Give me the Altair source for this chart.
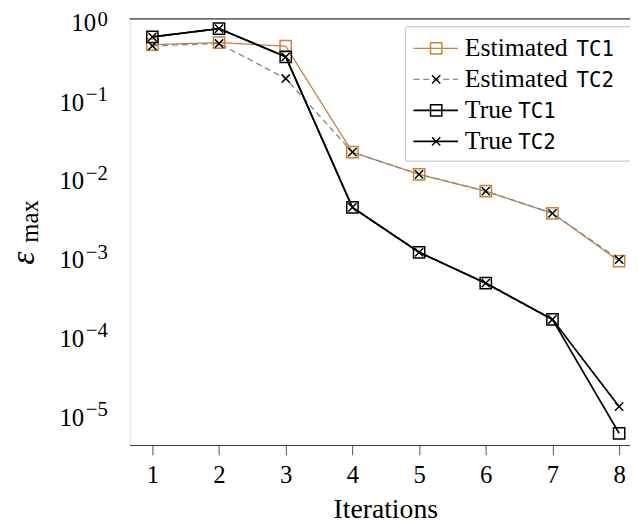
import altair as alt
import pandas as pd

# ---- data ----
iterations = [1, 2, 3, 4, 5, 6, 7, 8]
est_tc1 = [0.47, 0.50, 0.45, 0.0204, 0.0107, 0.00655, 0.00343, 0.00085]
est_tc2 = [0.455, 0.486, 0.175, 0.0204, 0.0107, 0.00655, 0.00343, 0.00089]
true_tc1 = [0.59, 0.75, 0.33, 0.00407, 0.00110, 0.000447, 0.000155, 5.6e-6]
true_tc2 = [0.59, 0.75, 0.33, 0.00407, 0.00110, 0.000447, 0.000155, 1.22e-5]
legend_words = ["Estimated", "Estimated", "True", "True"]
legend_codes = ["TC1", "TC2", "TC1", "TC2"]
y_ticks = [1, 0.1, 0.01, 0.001, 0.0001, 0.00001]
y_exponents = ["0", "\u22121", "\u22122", "\u22123", "\u22124", "\u22125"]

W, H = 506, 431
SERIF = "Liberation Serif"
MONO = "DejaVu Sans Mono"
ORANGE = "#c8823c"
GRAY = "#8a8a8a"
FRAME = "#3a3a3a"
XPATH = "M-1,-1L1,1M-1,1L1,-1"

styles = [
    dict(color=ORANGE, dash=[1, 0], width=1.3, shape="square", msize=130, mcolor=ORANGE),
    dict(color=GRAY, dash=[6, 4], width=1.4, shape=XPATH, msize=70, mcolor="black"),
    dict(color="black", dash=[1, 0], width=1.7, shape="square", msize=130, mcolor="black"),
    dict(color="black", dash=[1, 0], width=1.7, shape=XPATH, msize=70, mcolor="black"),
]
series = [est_tc1, est_tc2, true_tc1, true_tc2]

xscale = alt.Scale(domain=[0.659, 8.163], nice=False, zero=False)
yscale = alt.Scale(type="log", domain=[10 ** -5.4, 1], nice=False)

X = alt.X("it:Q", scale=xscale,
          axis=alt.Axis(values=iterations, format="d", title=None, grid=False,
                        domainColor=FRAME, domainWidth=1.2, tickColor="#555", tickSize=10,
                        labelFont=SERIF, labelFontSize=25, labelColor="black",
                        labelBaseline="alphabetic", labelPadding=28))
Y = alt.Y("eps:Q", scale=yscale,
          axis=alt.Axis(values=y_ticks, labels=False, title=None, grid=False,
                        domainColor=FRAME, domainWidth=1.2, tickColor="#555", tickSize=10))

layers = []
for vals, st in zip(series, styles):
    d = pd.DataFrame({"it": iterations, "eps": vals})
    base = alt.Chart(d)
    layers.append(base.mark_line(color=st["color"], strokeWidth=st["width"],
                                 strokeDash=st["dash"]).encode(x=X, y=Y))
    layers.append(base.mark_point(shape=st["shape"], size=st["msize"], filled=False,
                                  stroke=st["mcolor"], strokeWidth=1.5, opacity=1)
                  .encode(x=X, y=Y))

# y tick labels: "10" with a raised exponent
tick_df = pd.DataFrame({"eps": y_ticks, "exp": y_exponents})
tick_base = alt.Chart(tick_df)
Yt = alt.Y("eps:Q", scale=yscale, axis=None)
layers.append(tick_base.transform_filter("datum.eps == 1")
              .mark_text(text="10", font=SERIF, fontSize=25, align="right",
                         baseline="alphabetic", dy=12, color="black")
              .encode(x=alt.value(-34), y=Yt))
layers.append(tick_base.transform_filter("datum.eps < 1")
              .mark_text(text="10", font=SERIF, fontSize=25, align="right",
                         baseline="alphabetic", dy=13, color="black")
              .encode(x=alt.value(-46), y=Yt))
layers.append(tick_base.transform_filter("datum.eps == 1")
              .mark_text(font=SERIF, fontSize=21, align="right",
                         baseline="alphabetic", dy=7, color="black")
              .encode(x=alt.value(-22), y=Yt, text="exp:N"))
layers.append(tick_base.transform_filter("datum.eps < 1")
              .mark_text(font=SERIF, fontSize=21, align="right",
                         baseline="alphabetic", dy=3, color="black")
              .encode(x=alt.value(-22), y=Yt, text="exp:N"))

one = alt.Data(values=[{"k": 1}])

# top frame line
layers.append(alt.Chart(one).mark_rule(color=FRAME, strokeWidth=1.2)
              .encode(x=alt.value(0), x2=alt.value(W), y=alt.value(0)))

# x title
layers.append(alt.Chart(one).mark_text(text="Iterations", font=SERIF, fontSize=28,
                                       align="center", baseline="alphabetic", color="black")
              .encode(x=alt.value(259), y=alt.value(H + 74)))

# y title: epsilon with subscript "max"
layers.append(alt.Chart(one).mark_text(text="\u03b5", font=SERIF, fontStyle="italic", fontSize=34,
                                       angle=270, align="center", baseline="alphabetic",
                                       color="black")
              .encode(x=alt.value(-97), y=alt.value(242)))
layers.append(alt.Chart(one).mark_text(text="max", font=SERIF, fontSize=25,
                                       angle=270, align="center", baseline="alphabetic",
                                       color="black")
              .encode(x=alt.value(-93), y=alt.value(205)))

# legend
layers.append(alt.Chart(one).mark_rect(fill="white", stroke="#cccccc", strokeWidth=1.2,
                                       cornerRadius=2)
              .encode(x=alt.value(279), x2=alt.value(515), y=alt.value(8), y2=alt.value(144)))
for i, st in enumerate(styles):
    ly = 30 + i * 31.3
    layers.append(alt.Chart(one).mark_rule(color=st["color"], strokeWidth=st["width"],
                                           strokeDash=st["dash"])
                  .encode(x=alt.value(287), x2=alt.value(332), y=alt.value(ly)))
    layers.append(alt.Chart(one).mark_point(shape=st["shape"], size=st["msize"], filled=False,
                                            stroke=st["mcolor"], strokeWidth=1.5, opacity=1)
                  .encode(x=alt.value(310), y=alt.value(ly)))
    layers.append(alt.Chart(one).mark_text(text=legend_words[i], font=SERIF, fontSize=26,
                                           align="left", baseline="alphabetic", color="black")
                  .encode(x=alt.value(339), y=alt.value(ly + 8)))
    code_x = 452 if legend_words[i] == "Estimated" else 393
    layers.append(alt.Chart(one).mark_text(text=legend_codes[i], font=MONO, fontSize=21,
                                           align="left", baseline="alphabetic", color="black")
                  .encode(x=alt.value(code_x), y=alt.value(ly + 8)))

chart = alt.layer(*layers).properties(
    width=W, height=H,
    autosize=alt.AutoSizeParams(type="none"),
    padding={"left": 123, "top": 8, "right": 0, "bottom": 78},
).configure_view(stroke=None).configure(background="white")

chart.save("out.html", embed_options={"renderer": "svg", "actions": False})
